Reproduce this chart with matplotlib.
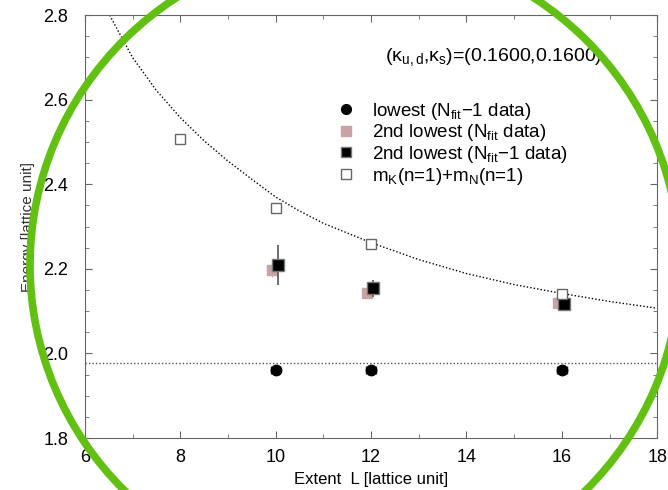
import matplotlib.pyplot as plt
from matplotlib.patches import Ellipse
from matplotlib.lines import Line2D
from matplotlib.ticker import MultipleLocator

plt.rcParams['font.family'] = ['Liberation Sans', 'DejaVu Sans']
plt.rcParams['mathtext.fontset'] = 'custom'
plt.rcParams['mathtext.rm'] = 'Liberation Sans'
plt.rcParams['mathtext.it'] = 'Liberation Sans'

# lowest state (N_fit-1 data)
L_low = [10, 12, 16]
E_low = [1.961, 1.962, 1.962]
err_low = [0.006, 0.006, 0.006]

# 2nd lowest (N_fit data), drawn slightly left of L
L_2nd_a = [9.92, 11.92, 15.92]
E_2nd_a = [2.197, 2.144, 2.120]
err_2nd_a = [0.015, 0.008, 0.006]

# 2nd lowest (N_fit-1 data), drawn slightly right of L
L_2nd_b = [10.05, 12.05, 16.05]
E_2nd_b = [2.209, 2.154, 2.116]
err_2nd_b = [0.047, 0.020, 0.010]

# m_K(n=1) + m_N(n=1)
L_kn = [8, 10, 12, 16]
E_kn = [2.508, 2.345, 2.260, 2.140]
err_kn = [0.012, 0.006, 0.004, 0.004]

# free K+N curve
L_curve = [6.52, 7.0, 7.5, 8.0, 8.5, 9.0, 9.5, 10.0, 10.5, 11.0, 12.0, 13.0, 14.0, 15.0, 16.0, 17.0, 18.0]
E_curve = [2.800, 2.700, 2.622, 2.558, 2.503, 2.455, 2.412, 2.370, 2.337, 2.308, 2.262, 2.222, 2.189, 2.163, 2.142, 2.123, 2.107]

threshold = 1.977

labels = [r'lowest (N$_{\rm fit}$$-$1 data)', r'2nd lowest (N$_{\rm fit}$ data)',
          r'2nd lowest (N$_{\rm fit}$$-$1 data)', r'm$_{\rm K}$(n=1)+m$_{\rm N}$(n=1)']

fig = plt.figure(figsize=(6.68, 4.90), dpi=100)
ax = fig.add_axes([0.127, 0.106, 0.857, 0.863])

grey = '#666666'
pink = '#c9a3a3'
ax.plot(L_curve, E_curve, color='black', lw=1, ls=(0, (1, 1.5)))
ax.axhline(threshold, color='#555555', lw=1, ls=(0, (1, 1.5)))

ax.errorbar(L_low, E_low, yerr=err_low, xerr=0.1, fmt='o', color='black', ecolor='#333333',
            ms=7.5, capsize=3, elinewidth=1, zorder=5)
ax.errorbar(L_2nd_a, E_2nd_a, yerr=err_2nd_a, fmt='s', color=pink, ms=7,
            mec=pink, elinewidth=1, zorder=4)
ax.errorbar(L_2nd_b, E_2nd_b, yerr=err_2nd_b, fmt='s', color='#555555', mfc='black',
            mec='#777777', ms=8.5, elinewidth=1.2, zorder=5)
ax.errorbar(L_kn, E_kn, yerr=err_kn, fmt='s', color=grey, mfc='white', mec=grey,
            ms=7, elinewidth=1, zorder=5)

ax.set_xlim(6, 18)
ax.set_ylim(1.8, 2.8)
ax.xaxis.set_major_locator(MultipleLocator(2))
ax.xaxis.set_minor_locator(MultipleLocator(1))
ax.yaxis.set_minor_locator(MultipleLocator(0.05))
ax.set_yticks([1.8, 2.0, 2.2, 2.4, 2.6, 2.8])
ax.set_yticklabels(['1.8', '2.0', '2.2', '2.4', '2.6', '2.8'])
ax.tick_params(which='both', direction='in', top=True, right=True, color=grey)
ax.tick_params(which='major', length=5, labelsize=13)
ax.tick_params(which='minor', length=3)
ax.tick_params(axis='y', pad=12)
ax.tick_params(axis='x', pad=8)
for s in ax.spines.values():
    s.set_color(grey)

ax.set_xlabel('Extent  L [lattice unit]', fontsize=12, labelpad=4)
ax.set_ylabel('Energy [lattice unit]', fontsize=11, color='#333333', labelpad=6)

ax.text(0.525, 0.90, r'(κ$_{\rm u,d}$,κ$_{\rm s}$)=(0.1600,0.1600)', transform=ax.transAxes,
        fontsize=14, ha='left', va='center')

handles = [
    Line2D([], [], ls='none', marker='o', color='black', ms=7),
    Line2D([], [], ls='none', marker='s', color=pink, ms=6.5),
    Line2D([], [], ls='none', marker='s', mfc='black', mec='#777777', ms=7),
    Line2D([], [], ls='none', marker='s', mfc='white', mec=grey, ms=6.5),
]
ax.legend(handles, labels, loc='upper left', bbox_to_anchor=(0.43, 0.815), frameon=False,
          fontsize=13.5, handlelength=0.8, handletextpad=1.0, labelspacing=0.03, borderaxespad=0)

ring = Ellipse((355 / 668, 1 - 265 / 490), 650 / 668, 640 / 490, transform=fig.transFigure,
               fill=False, ec='#62c012', lw=5.5, zorder=20, clip_on=False)
fig.patches.append(ring)

fig.savefig('out.png', dpi=100)
